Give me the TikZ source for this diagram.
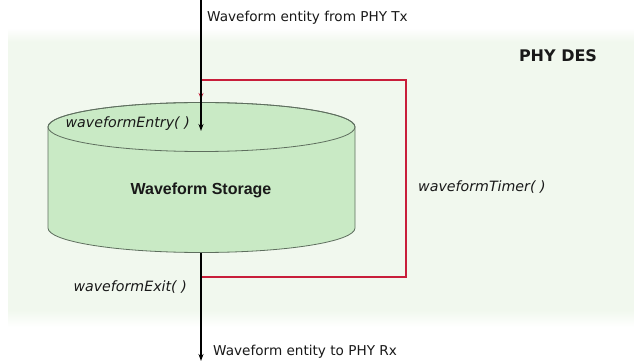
\documentclass[tikz,border=0pt]{standalone}
\usepackage{fontspec}
\setmainfont{DejaVu Sans}
\newfontfamily\storagefont{Liberation Sans}
\usetikzlibrary{arrows.meta}
\definecolor{panelgreen}{HTML}{F1F8EE}
\definecolor{drumfill}{HTML}{C9EAC5}
\definecolor{drumline}{HTML}{5E6E5E}
\definecolor{timerred}{HTML}{C81E3A}
\tikzset{
  flow/.style={draw=black, line width=1.1pt, -{Stealth[length=7pt,width=5pt]}},
  timer/.style={draw=timerred, line width=1.1pt, -{Stealth[length=6pt,width=5pt]}},
  plain/.style={inner sep=0pt, font=\fontsize{13.6}{16}\selectfont, text=black!90},
  call/.style={inner sep=0pt, font=\fontsize{14.2}{16}\itshape, text=black!90},
}
\begin{document}
\begin{tikzpicture}[x=1pt,y=1pt]
\useasboundingbox (0,0) rectangle (634,362);
\fill[white] (0,0) rectangle (634,362);
% module panel with soft top and bottom edges
\fill[panelgreen] (8,50) rectangle (634,320);
\shade[top color=white, bottom color=panelgreen] (8,320) rectangle (634,334);
\shade[top color=panelgreen, bottom color=white] (8,35) rectangle (634,52);
\node[inner sep=0pt, font=\fontsize{16}{18}\bfseries, text=black!90] (des) at (558,306) {PHY DES};

% storage drum
\path[fill=drumfill, draw=drumline, line width=0.8pt]
  (48,235) -- (48,134) arc[start angle=180, end angle=360, x radius=153.5, y radius=24.5]
  -- (355,235) arc[start angle=0, end angle=180, x radius=153.5, y radius=24.5] -- cycle;
\draw[drumline, line width=0.8pt] (201.5,235) ellipse[x radius=153.5, y radius=24.5];
\node[inner sep=0pt, font=\storagefont\fontsize{16}{18}\bfseries, text=black!90] (store) at (201,172) {Waveform Storage};

% connection points
\coordinate (src) at (201,362);
\coordinate (entry) at (201,231);
\coordinate (exit) at (201,109);
\coordinate (sink) at (201,1);
\coordinate (loopstart) at (201,85);
\coordinate (loopin) at (201,263);

% timer loop from exit back to entry
\draw[timer] (loopstart) -- (406,85) -- (406,282) -- (201,282) -- (loopin);

% waveform flow
\draw[flow] (src) -- (entry);
\draw[flow] (exit) -- (sink);

% labels
\node[plain, anchor=west] (txlbl) at (207,344) {Waveform entity from PHY Tx};
\node[plain, anchor=west] (rxlbl) at (213,10) {Waveform entity to PHY Rx};
\node[call, anchor=east] (entrylbl) at (190,238) {waveformEntry( )};
\node[call, anchor=west] (timerlbl) at (418,175) {waveformTimer( )};
\node[call, anchor=east] (exitlbl) at (187,75) {waveformExit( )};
\end{tikzpicture}
\end{document}
